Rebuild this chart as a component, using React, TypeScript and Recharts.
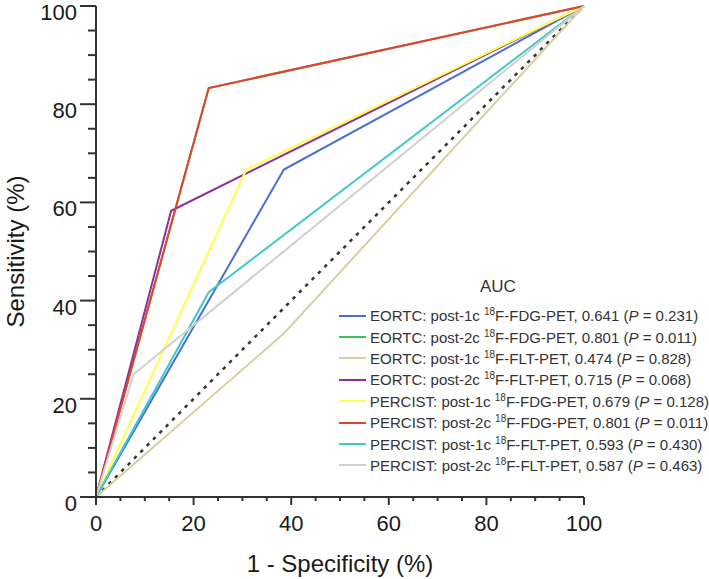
import { LineChart, Line, XAxis, YAxis, Legend } from "recharts";

// ROC points, x = 1 - specificity (%), y = sensitivity (%)
const eortcPost1cFdg = [{ x: 0, y: 0 }, { x: 38.5, y: 66.7 }, { x: 100, y: 100 }];
const eortcPost2cFdg = [{ x: 0, y: 0 }, { x: 23.1, y: 83.3 }, { x: 100, y: 100 }];
const eortcPost1cFlt = [{ x: 0, y: 0 }, { x: 38.5, y: 33.3 }, { x: 100, y: 100 }];
const eortcPost2cFlt = [{ x: 0, y: 0 }, { x: 15.4, y: 58.3 }, { x: 100, y: 100 }];
const percistPost1cFdg = [{ x: 0, y: 0 }, { x: 30.8, y: 66.7 }, { x: 100, y: 100 }];
const percistPost2cFdg = [{ x: 0, y: 0 }, { x: 23.1, y: 83.3 }, { x: 100, y: 100 }];
const percistPost1cFlt = [{ x: 0, y: 0 }, { x: 23.1, y: 41.7 }, { x: 100, y: 100 }];
const percistPost2cFlt = [{ x: 0, y: 0 }, { x: 7.7, y: 25 }, { x: 100, y: 100 }];
const reference = [{ x: 0, y: 0 }, { x: 100, y: 100 }];

const criteria = ["EORTC", "EORTC", "EORTC", "EORTC", "PERCIST", "PERCIST", "PERCIST", "PERCIST"];
const cycles = ["post-1c", "post-2c", "post-1c", "post-2c", "post-1c", "post-2c", "post-1c", "post-2c"];
const tracers = ["FDG", "FDG", "FLT", "FLT", "FDG", "FDG", "FLT", "FLT"];
const aucValues = ["0.641", "0.801", "0.474", "0.715", "0.679", "0.801", "0.593", "0.587"];
const pValues = ["0.231", "0.011", "0.828", "0.068", "0.128", "0.011", "0.430", "0.463"];

const series = [
  eortcPost1cFdg,
  eortcPost2cFdg,
  eortcPost1cFlt,
  eortcPost2cFlt,
  percistPost1cFdg,
  percistPost2cFdg,
  percistPost1cFlt,
  percistPost2cFlt,
];
const colors = ["#4a6fd0", "#3fc24c", "#d8d09c", "#8c2fa0", "#ffff4a", "#e8402e", "#40c8cc", "#d0d0d0"];

const axisTicks = [0, 5, 10, 15, 20, 25, 30, 35, 40, 45, 50, 55, 60, 65, 70, 75, 80, 85, 90, 95, 100];

const font = '"Liberation Sans", Arial, sans-serif';
const axisColor = "#333";

function XTick({ x, y, payload }: any) {
  const major = payload.value % 20 === 0;
  return (
    <g>
      <line x1={x} x2={x} y1={y} y2={y + (major ? 8 : 4)} stroke={axisColor} strokeWidth={2} />
      {major && (
        <text x={x} y={y + 34} textAnchor="middle" fontSize={22} fill="#1a1a1a" fontFamily={font}>
          {payload.value}
        </text>
      )}
    </g>
  );
}

function YTick({ x, y, payload }: any) {
  const major = payload.value % 20 === 0;
  return (
    <g>
      <line x1={x - (major ? 16 : 8)} x2={x} y1={y} y2={y} stroke={axisColor} strokeWidth={2} />
      {major && (
        <text x={x - 19} y={y + 14} textAnchor="end" fontSize={22} fill="#1a1a1a" fontFamily={font}>
          {payload.value}
        </text>
      )}
    </g>
  );
}

function LegendBox() {
  return (
    <div style={{ fontFamily: font, color: "#333" }}>
      <div style={{ height: 29, lineHeight: "21px", fontSize: 17, marginLeft: 141 }}>AUC</div>
      {criteria.map((c, i) => (
        <div key={i} style={{ display: "flex", alignItems: "center", height: 21.4, fontSize: 15, whiteSpace: "nowrap" }}>
          <span style={{ display: "inline-block", width: 27, height: 2, background: colors[i], marginRight: 4 }} />
          <span>
            {c}: {cycles[i]} <sup style={{ fontSize: 10, lineHeight: 0 }}>18</sup>F-{tracers[i]}-PET, {aucValues[i]} (
            <i>P</i> = {pValues[i]})
          </span>
        </div>
      ))}
    </div>
  );
}

export default function App() {
  return (
    <div style={{ position: "absolute", left: 0, top: 0, background: "#fff" }}>
      <LineChart width={709} height={579} margin={{ top: 6, right: 125, bottom: 0, left: 0 }}>
        <XAxis
          type="number"
          dataKey="x"
          domain={[0, 100]}
          ticks={axisTicks}
          interval={0}
          tickSize={0}
          tickMargin={0}
          tick={XTick}
          height={82}
          axisLine={{ stroke: axisColor, strokeWidth: 2 }}
          tickLine={false}
          label={{
            value: "1 - Specificity (%)",
            position: "insideBottom",
            offset: 7,
            fontSize: 24,
            fill: "#1a1a1a",
            fontFamily: font,
          }}
        />
        <YAxis
          type="number"
          dataKey="y"
          domain={[0, 100]}
          ticks={axisTicks}
          interval={0}
          tickSize={0}
          tickMargin={0}
          tick={YTick}
          width={96}
          axisLine={{ stroke: axisColor, strokeWidth: 2 }}
          tickLine={false}
          label={{
            value: "Sensitivity (%)",
            angle: -90,
            position: "insideLeft",
            offset: 15,
            fontSize: 24,
            fill: "#1a1a1a",
            fontFamily: font,
            style: { textAnchor: "middle" },
          }}
        />
        <Line
          data={reference}
          dataKey="y"
          stroke="#333"
          strokeWidth={2.5}
          strokeDasharray="3.5 5.5"
          dot={false}
          legendType="none"
          isAnimationActive={false}
        />
        {series.map((pts, i) => (
          <Line
            key={i}
            data={pts}
            dataKey="y"
            name={`${criteria[i]} ${cycles[i]} ${tracers[i]}`}
            stroke={colors[i]}
            strokeWidth={2}
            dot={false}
            isAnimationActive={false}
          />
        ))}
        <Legend
          layout="horizontal"
          verticalAlign="middle"
          align="center"
          wrapperStyle={{ left: 339, top: 276, width: 370 }}
          content={LegendBox}
        />
      </LineChart>
    </div>
  );
}
